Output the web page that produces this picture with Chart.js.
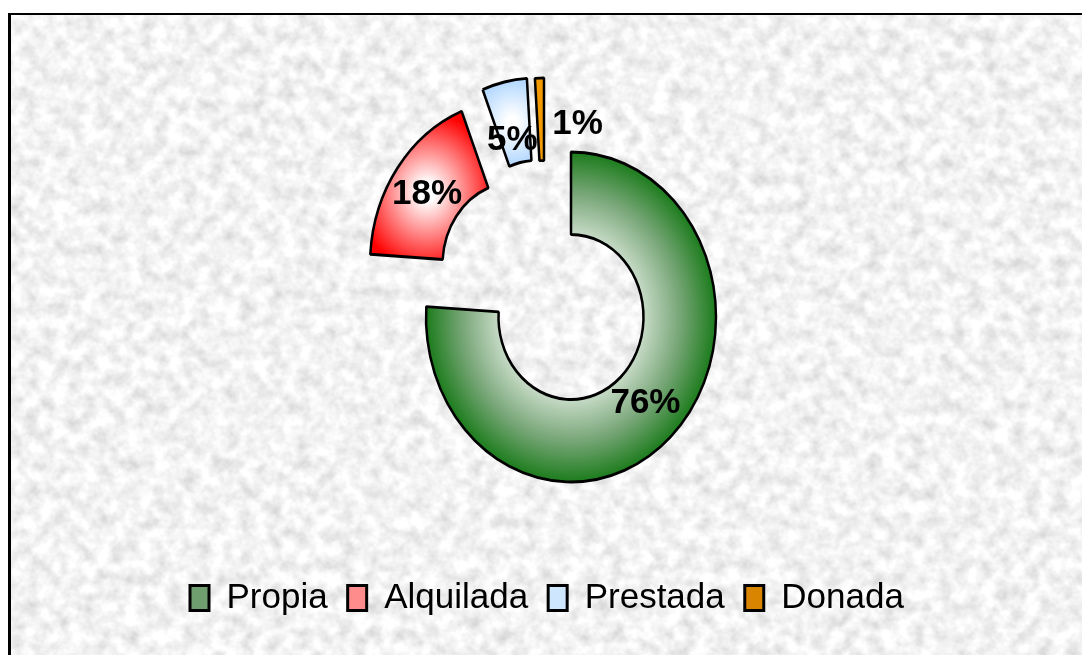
<!DOCTYPE html>
<html>
<head>
<meta charset="utf-8">
<script src="https://cdn.jsdelivr.net/npm/chart.js@4/dist/chart.umd.min.js"></script>
<style>
  html, body { margin: 0; padding: 0; background: #fff; }
  #bg {
    position: absolute; left: 8px; top: 13px; width: 1200px; height: 800px;
    border-top: 2px solid #000; border-left: 3px solid #000;
    background-color: #e2e2e2;
  }
  #wrap { position: absolute; left: 0; top: 0; width: 1082px; height: 655px; }
</style>
</head>
<body>
<div id="bg"></div>
<div id="wrap"><canvas id="chart" width="1082" height="655"></canvas></div>
<script>
const CATEGORIES = ['Propia', 'Alquilada', 'Prestada', 'Donada'];
const VALUES = [76, 18, 5, 1];
const PCT_LABELS = ['76%', '18%', '5%', '1%'];

// looks: how far each slice is pulled out of the ring (excel style explode)
const EXPLODE = [[0, 0], [-56, -46], [-35, -65], [-27, -65]];
const BASE_COLORS = ['#4f8f4f', '#ff6060', '#b8dcff', '#f29a00'];
const LEGEND_FILL = ['#6f9f6f', '#ff8c8c', '#cfe6ff', '#d98500'];
const STRETCH_Y = 1.138; // the doughnut is drawn taller than wide
const LABEL_NUDGE = [[0, -4], [0, 2], [0, 18], [37, 5]];

// granite-like backdrop, deterministic svg noise
const noise = "<svg xmlns='http://www.w3.org/2000/svg' width='1200' height='800'>" +
  "<filter id='n'><feTurbulence type='fractalNoise' baseFrequency='0.07' numOctaves='3' seed='7'/>" +
  "<feColorMatrix type='matrix' values='0.55 0 0 0 0.62 0.55 0 0 0 0.62 0.55 0 0 0 0.62 0 0 0 0 1'/></filter>" +
  "<rect width='100%' height='100%' filter='url(#n)'/></svg>";
document.getElementById('bg').style.backgroundImage = 'url("data:image/svg+xml,' + encodeURIComponent(noise) + '")';

function sliceFill(ctx, arc, i) {
  if (i === 0) {
    const g = ctx.createRadialGradient(arc.x, arc.y, arc.innerRadius, arc.x, arc.y, arc.outerRadius);
    g.addColorStop(0, '#c6dac6');
    g.addColorStop(0.5, '#78a678');
    g.addColorStop(1, '#1c7c1c');
    return g;
  }
  if (i === 3) return BASE_COLORS[3];
  const c = arc.tooltipPosition();
  const r = i === 1 ? 70 : 42;
  const g = ctx.createRadialGradient(c.x, c.y, 0, c.x, c.y, r);
  g.addColorStop(0, '#ffffff');
  g.addColorStop(0.12, '#ffffff');
  g.addColorStop(1, i === 1 ? '#ff0000' : '#a8d2ff');
  return g;
}

// draws the ring squashed into an ellipse, with exploded slices, then the % labels
const explodedEllipse = {
  id: 'explodedEllipse',
  beforeDatasetDraw(chart, args) {
    const ctx = chart.ctx;
    const cy = (chart.chartArea.top + chart.chartArea.bottom) / 2;
    ctx.save();
    ctx.translate(0, cy);
    ctx.scale(1, STRETCH_Y);
    ctx.translate(0, -cy);
    args.meta.data.forEach((arc, i) => {
      arc.options.backgroundColor = sliceFill(ctx, arc, i);
      ctx.save();
      ctx.translate(EXPLODE[i][0], EXPLODE[i][1]);
      arc.draw(ctx);
      ctx.restore();
    });
    ctx.restore();
    return false;
  },
  afterDatasetsDraw(chart) {
    const ctx = chart.ctx;
    const cy = (chart.chartArea.top + chart.chartArea.bottom) / 2;
    ctx.save();
    ctx.font = 'bold 35px "Liberation Sans", Arial, sans-serif';
    ctx.fillStyle = '#000';
    ctx.textAlign = 'center';
    ctx.textBaseline = 'middle';
    chart.getDatasetMeta(0).data.forEach((arc, i) => {
      const p = arc.tooltipPosition();
      const x = p.x + EXPLODE[i][0];
      const y = cy + (p.y + EXPLODE[i][1] - cy) * STRETCH_Y;
      ctx.fillText(PCT_LABELS[i], x + LABEL_NUDGE[i][0], y + LABEL_NUDGE[i][1]);
    });
    ctx.restore();
  }
};

new Chart(document.getElementById('chart'), {
  type: 'doughnut',
  data: {
    labels: CATEGORIES,
    datasets: [{
      data: VALUES,
      backgroundColor: BASE_COLORS,
      borderColor: '#000',
      borderWidth: 2.5,
      clip: false
    }]
  },
  options: {
    responsive: false,
    animation: false,
    devicePixelRatio: 1,
    radius: 145,
    cutout: '50%',
    layout: { padding: { left: 170, right: 110, top: 73.5, bottom: 29.5 } },
    plugins: {
      tooltip: { enabled: false },
      legend: {
        position: 'bottom',
        align: 'start',
        labels: {
          font: { family: '"Liberation Sans", Arial, sans-serif', size: 35 },
          color: '#000',
          boxWidth: 19,
          boxHeight: 25,
          padding: 20,
          generateLabels(chart) {
            const items = Chart.overrides.doughnut.plugins.legend.labels.generateLabels(chart);
            return items.map((it, i) => Object.assign(it, {
              fillStyle: LEGEND_FILL[i], strokeStyle: '#000', lineWidth: 3
            }));
          }
        }
      }
    }
  },
  plugins: [explodedEllipse]
});
</script>
</body>
</html>
